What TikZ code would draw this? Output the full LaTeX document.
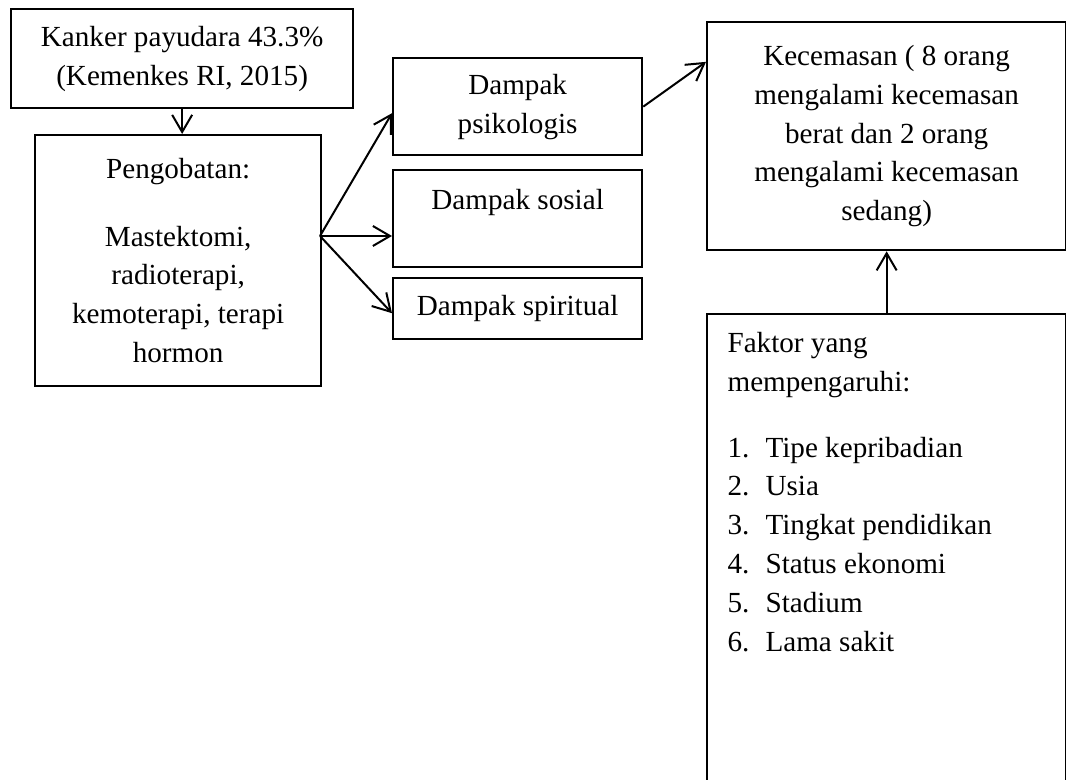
\documentclass[tikz,border=0pt]{standalone}
\usepackage{fontspec}
\setmainfont{Liberation Serif}
\usetikzlibrary{arrows.meta}
\newcommand{\butir}[2]{\makebox[13.3pt][l]{#1.}#2}

\begin{document}
\begin{tikzpicture}[x=0.35pt,y=-0.35pt,
    kotak/.style={draw,line width=0.8pt,align=center,anchor=north west,inner sep=2pt},
    panah/.style={-{Straight Barb[length=6pt,width=7pt]},line width=0.7pt},
    font=\fontsize{10.2pt}{13.6pt}\selectfont]
    \useasboundingbox (0,0) rectangle (1066,780);

    % Left column
    \node[kotak,minimum width=119.7pt,minimum height=34.65pt] (kanker) at (10,8)
        {Kanker payudara 43.3\%\\(Kemenkes RI, 2015)};
    \node[kotak,minimum width=100.1pt,minimum height=87.85pt] (pengobatan) at (34,134)
        {Pengobatan:\\[10pt]Mastektomi,\\radioterapi,\\kemoterapi, terapi\\hormon};

    % Dampak
    \node[kotak,minimum width=87.15pt,minimum height=33.95pt] (psikologis) at (392,57)
        {Dampak\\psikologis};
    \node[kotak,minimum width=87.15pt,minimum height=33.95pt] (sosial) at (392,169)
        {Dampak sosial\\~};
    \node[kotak,minimum width=87.15pt,minimum height=21.35pt] (spiritual) at (392,277)
        {Dampak spiritual};

    % Right column
    \node[kotak,minimum width=125.65pt,minimum height=79.8pt] (kecemasan) at (706,21)
        {Kecemasan ( 8 orang\\mengalami kecemasan\\berat dan 2 orang\\mengalami kecemasan\\sedang)};
    \node[kotak,minimum width=125.65pt,minimum height=170.45pt] (faktor) at (706,313) {};
    \node[anchor=north west,align=left,inner sep=0pt] (faktorteks) at (727,332)
        {Faktor yang\\mempengaruhi:\\[9.3pt]
         \butir{1}{Tipe kepribadian}\\\butir{2}{Usia}\\\butir{3}{Tingkat pendidikan}\\
         \butir{4}{Status ekonomi}\\\butir{5}{Stadium}\\\butir{6}{Lama sakit}};

    % Arrows
    \coordinate (cabang) at (320,236);
    \draw[panah] (kanker.south) -- (kanker.south |- pengobatan.north);
    \draw[panah] (cabang) -- ([yshift=-2.3pt]psikologis.west);
    \draw[panah] (cabang) -- (cabang -| sosial.west);
    \draw[panah] (cabang) -- ([yshift=-1.6pt]spiritual.west);
    \draw[panah] (psikologis.east) -- ([yshift=26pt]kecemasan.west);
    \draw[panah] (faktor.north) -- (kecemasan.south);
\end{tikzpicture}
\end{document}
